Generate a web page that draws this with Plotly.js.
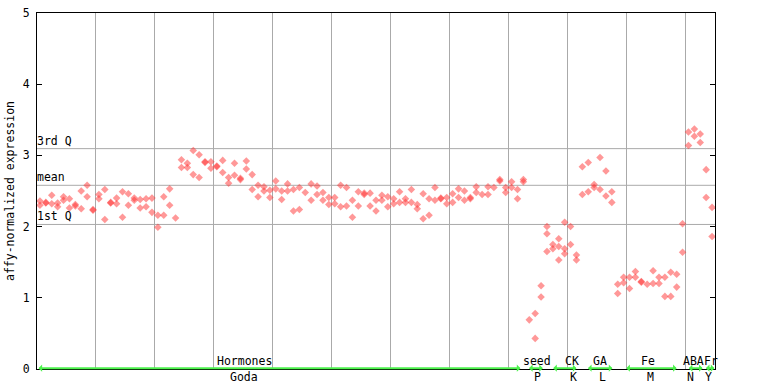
<!DOCTYPE html>
<html><head><meta charset="utf-8">
<script src="https://cdn.plot.ly/plotly-3.0.1.min.js"></script>
<style>html,body{margin:0;padding:0;background:#fff}#chart{width:768px;height:384px}</style>
</head><body><div id="chart"></div>
<script>
// replicate values per sample (index 0..114)
const rep1 = [
2.36,2.34,2.44,2.33,2.42,2.39,2.31,2.50,2.58,2.23,
2.45,2.52,2.33,2.40,2.49,2.46,2.40,2.38,2.39,2.40,
2.16,2.42,2.53,2.12,2.94,2.89,3.07,3.01,2.91,2.91,
2.85,2.93,2.69,2.89,2.68,2.92,2.73,2.58,2.56,2.51,
2.64,2.50,2.60,2.52,2.55,2.48,2.60,2.57,2.48,2.41,
2.41,2.58,2.55,2.37,2.49,2.47,2.47,2.37,2.44,2.42,
2.39,2.49,2.39,2.52,2.31,2.46,2.39,2.55,2.40,2.41,
2.46,2.53,2.50,2.41,2.56,2.45,2.56,2.55,2.66,2.55,
2.63,2.52,2.66,0.69,0.78,1.17,2.00,1.75,1.83,2.06,
2.00,1.60,2.84,2.90,2.59,2.97,2.78,2.49,1.19,1.29,
1.29,1.37,1.23,1.19,1.38,1.29,1.29,1.36,1.33,2.04,
3.33,3.37,3.30,2.80,2.27
];
const rep2 = [
2.30,2.33,2.32,2.28,2.37,2.26,2.29,2.25,2.42,2.24,
2.39,2.10,2.34,2.32,2.13,2.30,2.37,2.26,2.28,2.20,
1.99,2.16,2.30,null,2.83,2.83,2.73,2.69,2.90,2.82,
2.84,2.76,2.61,2.72,2.66,2.81,2.52,2.42,2.50,2.41,
2.53,2.38,2.50,2.22,2.24,null,2.37,2.45,2.37,2.31,
2.32,2.28,2.29,2.13,2.29,2.45,2.29,2.22,2.37,2.28,
2.32,2.34,2.34,2.34,2.25,2.11,2.16,2.37,2.39,2.32,
2.34,2.41,2.37,2.39,2.48,null,2.45,null,2.64,2.48,
2.55,2.39,2.63,null,0.43,1.01,1.90,1.69,1.72,1.69,
1.75,1.53,2.45,2.49,2.55,2.52,2.43,2.34,1.06,1.21,
1.13,1.29,1.22,null,1.20,1.20,1.02,1.02,1.15,1.64,
3.14,3.27,3.18,2.41,1.86
];
const extraIdx = [86, 88, 89];
const extraVal = [1.65, 1.53, 1.62];

const statNames = ['3rd Q', 'mean', '1st Q'];
const statValues = [3.095, 2.58, 2.03];

const groupTop = ['Hormones', 'seed', 'CK', 'GA', 'Fe', 'ABA', 'Fr'];
const groupBottom = ['Goda', 'P', 'K', 'L', 'M', 'N', 'Y'];
const groupStart = [0, 83.2, 87.3, 93.2, 99.7, 110.3, 113.2];
const groupEnd = [82, 85.8, 91.5, 97.6, 108.5, 112.9, 114.9];
const topLabelX = [35.25, 84.8, 90.7, 95.5, 103.6, 111.3, 114.4];
const bottomLabelX = [35.1, 84.9, 91.0, 96.0, 104.0, 110.9, 113.9];

const nSamples = rep1.length;
const xs = [], ys = [];
for (let i = 0; i < nSamples; i++) {
  if (rep1[i] !== null) { xs.push(i + 0.5); ys.push(rep1[i]); }
  if (rep2[i] !== null) { xs.push(i + 0.5); ys.push(rep2[i]); }
}
for (let k = 0; k < extraIdx.length; k++) { xs.push(extraIdx[k] + 0.5); ys.push(extraVal[k]); }

const mono = 'DejaVu Sans Mono, Liberation Mono, monospace';
const trace = {
  type: 'scatter', mode: 'markers', x: xs, y: ys, hoverinfo: 'skip',
  marker: {symbol: 'diamond', size: 5.8, color: 'rgba(255,50,50,0.5)', line: {width: 0}}
};

const shapes = statValues.map(v => ({
  type: 'line', xref: 'paper', x0: 0, x1: 1, yref: 'y', y0: v, y1: v,
  line: {color: '#aaaaaa', width: 1}, layer: 'below'
}));

const annotations = [];
statNames.forEach((s, i) => annotations.push({
  text: s, xref: 'paper', x: 0, xanchor: 'left', yref: 'y', y: statValues[i], yanchor: 'bottom',
  showarrow: false, font: {family: mono, size: 11.5, color: '#000'}, xshift: -2, yshift: -1
}));
groupTop.forEach((g, i) => {
  annotations.push({
    text: '', x: groupEnd[i], y: 0.012, ax: groupStart[i], ay: 0.012, xref: 'x', yref: 'y',
    axref: 'x', ayref: 'y', showarrow: true, arrowside: 'end+start', arrowhead: 1,
    arrowsize: 0.6, arrowwidth: 2, arrowcolor: '#4cf24c'
  });
  annotations.push({
    text: g, xref: 'x', x: topLabelX[i], xanchor: 'center', yref: 'paper', y: 0, yanchor: 'middle',
    yshift: 8, showarrow: false, font: {family: mono, size: 11.5, color: '#000'}
  });
  annotations.push({
    text: groupBottom[i], xref: 'x', x: bottomLabelX[i], xanchor: 'center', yref: 'paper', y: 0,
    yanchor: 'middle', yshift: -8, showarrow: false, font: {family: mono, size: 11.5, color: '#000'}
  });
});
annotations.push({
  text: 'affy-normalized expression', xref: 'paper', x: -0.0398, xanchor: 'center',
  yref: 'paper', y: 0.5, yanchor: 'middle', textangle: -90, showarrow: false,
  font: {family: mono, size: 11.5, color: '#000'}
});

const layout = {
  width: 768, height: 384,
  margin: {l: 37, r: 53, t: 13, b: 15, pad: 0},
  paper_bgcolor: '#ffffff', plot_bgcolor: '#ffffff', showlegend: false,
  font: {family: mono, size: 11.5, color: '#000'},
  xaxis: {range: [0, 115], tick0: 0, dtick: 10, showgrid: true, gridcolor: '#aaaaaa', gridwidth: 1,
    showticklabels: false, ticks: '', zeroline: false, showline: true, linecolor: '#000', linewidth: 1,
    mirror: true, fixedrange: true},
  yaxis: {range: [0, 5], tick0: 0, dtick: 1, showgrid: false, zeroline: false, showline: true,
    linecolor: '#000', linewidth: 1, mirror: 'ticks', ticks: 'inside', ticklen: 5, tickwidth: 1,
    tickcolor: '#000', tickfont: {family: mono, size: 11.5, color: '#000'}, ticklabelstandoff: 4,
    fixedrange: true},
  shapes: shapes, annotations: annotations
};
Plotly.newPlot('chart', [trace], layout, {staticPlot: true, displayModeBar: false});
</script></body></html>
